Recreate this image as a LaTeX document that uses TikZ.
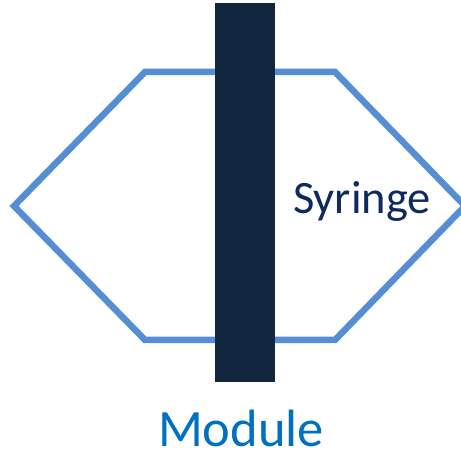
\documentclass[tikz,border=0pt]{standalone}
\usepackage{fontspec}
\setmainfont{Carlito}
\definecolor{hexblue}{HTML}{558ED5}
\definecolor{barnavy}{HTML}{12263F}
\definecolor{synavy}{HTML}{0E2A5E}
\definecolor{modblue}{HTML}{0070C0}
\begin{document}
\begin{tikzpicture}[x=1pt,y=1pt,
  hexline/.style={draw=hexblue,line width=6.5pt,line join=miter},
  barbox/.style={fill=barnavy,draw=none,inner sep=0pt,minimum width=60pt,minimum height=379pt},
  lbl/.style={inner sep=0pt,anchor=base}]
\useasboundingbox (0,0) rectangle (461,455);
\begin{scope}
\clip (0,0) rectangle (461,455);
\coordinate (L) at (14,249);
\coordinate (TL) at (145,383);
\coordinate (TR) at (335,383);
\coordinate (R) at (465,249);
\coordinate (BR) at (335,115);
\coordinate (BL) at (145,115);
\draw[hexline] (L) -- (TL) -- (TR) -- (R) -- (BR) -- (BL) -- cycle;
\end{scope}
\node[barbox] (bar) at (245,262.5) {};
\node[lbl,text=synavy,font=\fontsize{46.5}{55}\selectfont] (syr) at (362,241) {Syringe};
\node[lbl,text=modblue,font=\fontsize{52.5}{62}\selectfont] (mod) at (241,8) {Module};
\end{tikzpicture}
\end{document}
